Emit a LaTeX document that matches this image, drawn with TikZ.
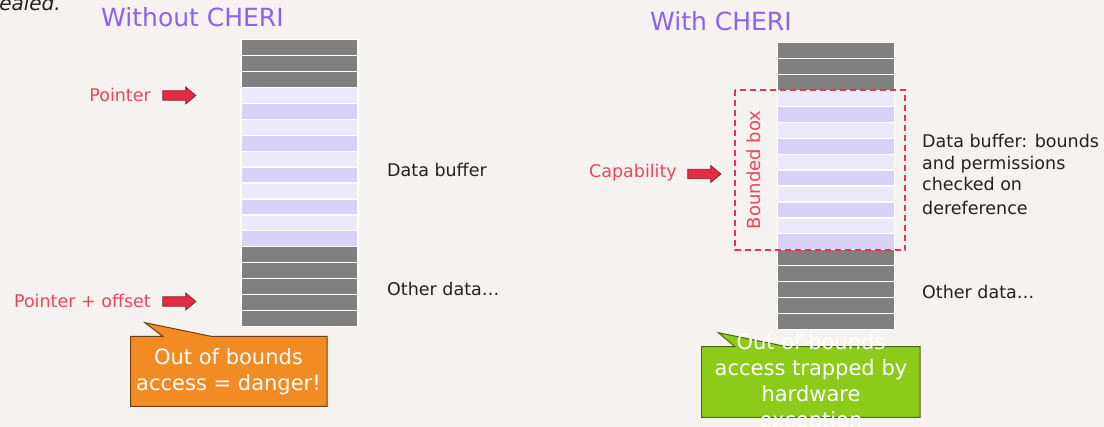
\documentclass[tikz,border=0pt]{standalone}
\usepackage{fontspec}
\setmainfont{DejaVu Sans}
\usetikzlibrary{shapes.arrows}

\definecolor{bg}{HTML}{F5F2EF}
\definecolor{memdark}{HTML}{808080}
\definecolor{memlight}{HTML}{ECE9FC}
\definecolor{memmid}{HTML}{D9D2F8}
\definecolor{arrowred}{HTML}{E32B42}
\definecolor{arrowedge}{HTML}{8A1C2A}
\definecolor{labelred}{HTML}{E8485A}
\definecolor{boundred}{HTML}{E8344E}
\definecolor{titlepurple}{HTML}{8D62F2}
\definecolor{calloutorange}{HTML}{F28B24}
\definecolor{orangeedge}{HTML}{6E3F12}
\definecolor{calloutgreen}{HTML}{8DCB1A}
\definecolor{greenedge}{HTML}{4B6A12}
\definecolor{bodytext}{HTML}{222222}

\tikzset{
  cell/.style={rectangle, draw=white, line width=1.2pt, minimum width=117pt,
    minimum height=15.95pt, inner sep=0pt, outer sep=0pt},
  ptr/.style={single arrow, draw=arrowedge, fill=arrowred, line width=0.8pt,
    minimum height=33pt, inner xsep=0pt, inner ysep=4.3pt,
    single arrow head extend=3.7pt, single arrow tip angle=80},
  title/.style={text=titlepurple, font=\fontsize{25}{30}\selectfont, inner sep=0pt},
  redlabel/.style={text=labelred, font=\fontsize{17.5}{21}\selectfont, inner sep=0pt},
  bodylabel/.style={text=bodytext, font=\fontsize{17.5}{21.5}\selectfont, inner sep=0pt, align=left},
  callouttext/.style={text=white, font=\fontsize{21}{26.5}\selectfont, align=center, inner sep=0pt},
}

\begin{document}
\begin{tikzpicture}[x=1pt, y=-1pt]
\useasboundingbox (0,0) rectangle (1104,427);
\clip (0,0) rectangle (1104,427);
\fill[bg] (0,0) rectangle (1104,427);

% tail of the sentence above the figure
\node[anchor=base east, inner sep=0pt, text=bodytext,
  font=\itshape\fontsize{20}{24}\selectfont] (prev) at (61,10.7) {ealed.};

% titles
\node[title, anchor=base west] (titleL) at (101,27) {Without CHERI};
\node[title, anchor=base west] (titleR) at (650,30.7) {With CHERI};

% memory columns: 3 other words, 10 buffer words, 5 other words
\foreach \i/\c in {1/memdark,2/memdark,3/memdark,4/memlight,5/memmid,6/memlight,
  7/memmid,8/memlight,9/memmid,10/memlight,11/memmid,12/memlight,13/memmid,
  14/memdark,15/memdark,16/memdark,17/memdark,18/memdark}{
  \node[cell, fill=\c] (L\i) at (299.5, {39.5+(\i-0.5)*15.95}) {};
  \node[cell, fill=\c] (R\i) at (836.25, {42.5+(\i-0.5)*15.95}) {};
}

% left side labels
\node[redlabel, anchor=east] (ptrlbl) at (151,94.5) {Pointer};
\node[ptr] (ptrarrow) at (176.5,95.5) {};
\node[redlabel, anchor=east] (offlbl) at (151,301) {Pointer + offset};
\node[ptr] (offarrow) at (176.5,301.5) {};
\node[bodylabel, anchor=west] (bufL) at (387,170) {Data buffer};
\node[bodylabel, anchor=west] (otherL) at (387,289) {Other data…};

% orange callout
\draw[fill=calloutorange, draw=orangeedge, line width=1pt]
  (130.5,336.5) -- (163,336.5) -- (145,322.7) -- (212,336.5) -- (327,336.5)
  -- (327,406.5) -- (130.5,406.5) -- cycle;
\node[callouttext] (danger) at (228.5,371.5) {Out of bounds\\access = danger!};

% right side: bounds of the capability
\draw[boundred, dash pattern=on 6pt off 4pt, line width=2pt]
  (735,90) rectangle (905,250.5);
\node[redlabel, rotate=90, font=\fontsize{18}{21}\selectfont] (bbox) at (754,170) {Bounded box};
\node[redlabel, anchor=east] (caplbl) at (677,173) {Capability};
\node[ptr] (caparrow) at (701.5,174) {};
\node[bodylabel, anchor=west] (bufR) at (922,174.5)
  {Data buffer: bounds\\and permissions\\checked on\\[2.5pt]dereference};
\node[bodylabel, anchor=west] (otherR) at (922,292) {Other data…};

% green callout
\draw[fill=calloutgreen, draw=greenedge, line width=1pt]
  (701.7,346.7) -- (735,346.7) -- (718.3,332.7) -- (787,346.7) -- (920,346.7)
  -- (920,417.3) -- (701.7,417.3) -- cycle;
\node[callouttext, font=\fontsize{21}{26}\selectfont] (trapped) at (811,382.5)
  {Out of bounds\\access trapped by\\hardware\\exception};
\end{tikzpicture}
\end{document}
